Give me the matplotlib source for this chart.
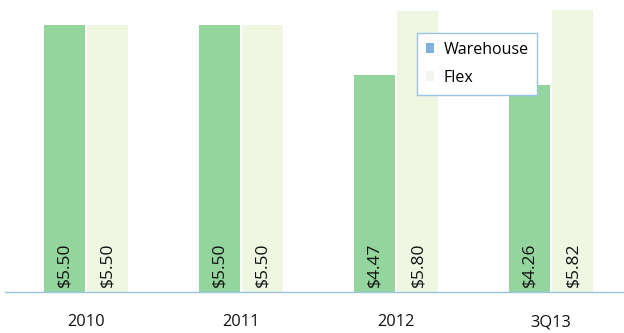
import numpy as np
import matplotlib.pyplot as plt
from matplotlib.patches import Patch

plt.rcParams["font.family"] = ["Open Sans", "DejaVu Sans"]

periods = ["2010", "2011", "2012", "3Q13"]
warehouse = [5.50, 5.50, 4.47, 4.26]
flex = [5.50, 5.50, 5.80, 5.82]

wh_color = "#93d59c"
flex_color = "#eff7e3"
axis_color = "#9cc3e6"

fig = plt.figure(figsize=(6.24, 3.33), dpi=100)
# axes span: left edge to right edge, baseline at y=292px of 333
ax = fig.add_axes([0.0, 1 - 292 / 333, 1.0, 292 / 333])

x = np.arange(len(periods))
w = 0.265
gap = 0.008
b1 = ax.bar(x - w / 2 - gap, warehouse, w, color=wh_color, edgecolor="none")
b2 = ax.bar(x + w / 2 + gap, flex, w, color=flex_color, edgecolor="none")

for bars, vals in ((b1, warehouse), (b2, flex)):
    for r, v in zip(bars, vals):
        ax.text(r.get_x() + r.get_width() / 2, 0.1, f"${v:.2f}",
                rotation=90, ha="center", va="bottom", fontsize=12.5,
                color="#111111")

ax.set_xlim(-0.555, 3.47)
ax.set_ylim(0, 6.02)
for s in ("top", "right", "left"):
    ax.spines[s].set_visible(False)
ax.spines["bottom"].set_color(axis_color)
ax.spines["bottom"].set_linewidth(1.0)
ax.spines["bottom"].set_bounds(-0.52, 3.47)
ax.set_yticks([])
ax.set_xticks(x)
ax.set_xticklabels(periods, fontsize=11.8, color="#111111")
ax.tick_params(axis="x", length=0, pad=16)

handles = [Patch(facecolor="#7fb3df", edgecolor="none"),
           Patch(facecolor="#f2f5ee", edgecolor="none")]
leg = ax.legend(handles, ["Warehouse", "Flex"], loc="upper left",
                bbox_to_anchor=(417 / 624, 1 - 33 / 292), fontsize=11.5,
                frameon=True, fancybox=False, handlelength=0.5,
                handleheight=0.6, handletextpad=0.6, borderpad=0.55,
                labelspacing=0.75, borderaxespad=0)
leg.get_frame().set_edgecolor(axis_color)
leg.get_frame().set_linewidth(1.0)
leg.get_frame().set_facecolor("white")
leg.get_frame().set_alpha(1)

fig.savefig("out.png", dpi=100)
